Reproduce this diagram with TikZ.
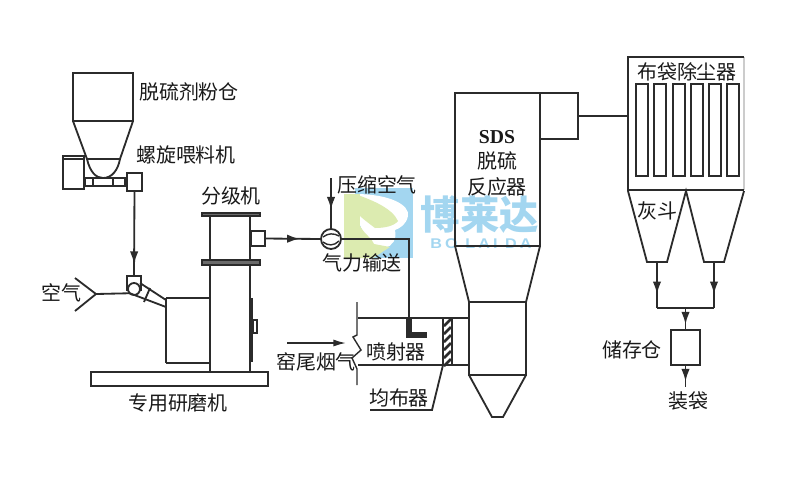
\documentclass[tikz,border=0pt]{standalone}
\usepackage{fontspec}
\setmainfont{Noto Sans CJK SC}
\newfontfamily\latinfont{Liberation Serif}
\newfontfamily\logofont[LetterSpace=22,FakeStretch=1.15]{Liberation Sans}
\usetikzlibrary{arrows.meta,positioning,decorations.markings}
\definecolor{inkline}{HTML}{2B2B2B}
\definecolor{logoblue}{HTML}{A3D6F0}
\definecolor{logogreen}{HTML}{DCEBB0}
\tikzset{
  unit/.style={draw=inkline, line width=1.3pt, rectangle, inner sep=0pt, outer sep=0pt, fill=none},
  pipe/.style={draw=inkline, line width=1.3pt},
  flow/.style={pipe, postaction={decorate},
    decoration={markings, mark=at position #1 with {\arrow{Latex[length=9pt,width=6pt]}}}},
  label/.style={font=\fontsize{14.2}{14.2}\selectfont, text=black!90, inner sep=0pt},
}
\begin{document}
\begin{tikzpicture}[x=0.025cm, y=-0.025cm]
\useasboundingbox (0,0) rectangle (800,496);

% watermark
\fill[logoblue] (355,188) rectangle (413,258);
\fill[white] (355,194) .. controls (390,194) and (410,205) .. (408,216)
  .. controls (406,225) and (400,228) .. (395,230) .. controls (397,240) and (392,246) .. (385,248)
  -- (370,248) -- (360,225) -- cycle;
\fill[logogreen] (344,194) rectangle (360,258);
\fill[logogreen] (355,194) .. controls (372,200) and (392,208) .. (398,221)
  .. controls (394,226) and (385,228) .. (375,228) .. controls (367,222) and (362,218) .. (360,216) -- cycle;
\fill[logogreen] (360,226) .. controls (365,235) and (372,238) .. (374,244) -- (390,247) -- (373,258) -- (360,258) -- cycle;
\node[font=\bfseries\fontsize{28}{28}\selectfont, text=logoblue, inner sep=0pt] (logocn) at (480,215) {博莱达};
\node[font=\logofont\bfseries\fontsize{10}{10}\selectfont, text=logoblue, inner sep=0pt] (logoen) at (481,244) {BO LAI DA};

% powder bin and screw feeder
\node[unit, minimum width=1.5cm, minimum height=1.2cm] (bin) at (103,97) {};
\draw[pipe] (bin.south west) -- (87,159) -- (120,159) -- (bin.south east);
\draw[pipe] (87,159) .. controls (90,172) and (96,178) .. (103,178) .. controls (112,178) and (118,170) .. (120,159);
\node[unit, minimum width=0.525cm, minimum height=0.825cm] (motor) at (73.5,172.5) {};
\draw[pipe] (63,159) -- (84,159);
\draw[pipe] (84,178) -- (127,178) (84,186) -- (127,186);
\draw[pipe, fill=white] (85,178) rectangle (93,186);
\draw[pipe, fill=white] (113,178) rectangle (125,186);
\node[unit, minimum width=0.375cm, minimum height=0.45cm] (feedout) at (134.5,182) {};

% mill
\node[unit, minimum width=4.425cm, minimum height=0.35cm] (base) at (179.5,379) {};
\draw[pipe] (210,217) -- (210,372) (250,217) -- (250,372);
\draw[pipe, fill=inkline!70] (202,213) rectangle (260,216);
\draw[pipe, fill=inkline!70] (202,260) rectangle (260,265);
\node[unit, minimum width=0.35cm, minimum height=0.375cm] (classout) at (258,238.5) {};
\draw[pipe] (166,298) -- (210,298) (166,363) -- (210,363) (166,298) -- (166,363);
\draw[line width=1.8pt, inkline] (251.5,298) -- (251.5,362);
\draw[pipe] (253,320) rectangle (257,333);
\node[unit, minimum width=0.35cm, minimum height=0.35cm] (millin) at (134,283) {};
\node[unit, circle, minimum size=0.3cm, fill=white] (fan) at (134,289) {};
\draw[pipe] (140,283) -- (166,300) (fan.south west) -- (166,307);
\draw[pipe] (150,288) -- (144,302);
\coordinate (airtip) at (96,294);
\draw[pipe] (75,278) -- (airtip) -- (75,311);
\draw[pipe] (airtip) -- (fan.south west);
\draw[flow=0.86] (feedout.south) -- (millin.north);

% conveying line
\node[unit, circle, minimum size=0.5cm] (pump) at (331,239) {};
\draw[pipe, line width=1pt] (323,237) .. controls (328,233) and (334,233) .. (339,236);
\draw[pipe, line width=1pt] (323,242) .. controls (328,246) and (334,246) .. (339,241);
\coordinate (airin) at (331,178);
\coordinate (lance) at (409,318);
\draw[flow=0.62] (airin) -- (pump.north);
\draw[flow=0.62] (classout.east) -- (pump.west);
\draw[pipe] (pump.east) -| (lance);

% flue duct
\draw[pipe] (358,318) -- (469,318) (358,365) -- (469,365);
\draw[pipe, line width=1pt] (357,302) -- (357,335) -- (353,337) -- (361,350) -- (352,358) -- (357,369) -- (357,385);
\draw[draw=inkline, line width=4.5pt] (lance) -- (409,335) -- (427,335);
\draw[pipe, fill=white] (443,318) rectangle (452,365);
\foreach \y in {326,334,...,366} \draw[pipe, line width=1.8pt] (444,\y) -- (451,\y-7);
\coordinate (flueA) at (287,343);
\coordinate (flueB) at (346,343);
\draw[draw=inkline, line width=1.1pt, -{Latex[length=9pt,width=5pt]}] (flueA) -- (flueB);
\draw[pipe] (443,365) -- (432,410) -- (370,410);

% reactor
\draw[pipe] (540,93) -- (455,93) -- (455,246) -- (540,246) -- cycle;
\draw[pipe] (455,246) -- (469,302) -- (526,302) -- (540,246);
\draw[pipe] (469,302) -- (469,375) -- (526,375) -- (526,302);
\draw[pipe] (469,375) -- (492,417) -- (503,417) -- (526,375);
\node[unit, minimum width=0.95cm, minimum height=1.15cm] (outlet) at (559,116) {};

% bag filter
\node[inner sep=0pt, outer sep=0pt, minimum width=2.9cm, minimum height=3.325cm] (filter) at (686,123.5) {};
\draw[black!20, line width=0.8pt] (filter.north east) -- (filter.south east);
\draw[pipe] (filter.north east) -- (filter.north west) -- (filter.south west) -- (filter.south east);
\foreach \x in {636,654,673,691,709,727} \draw[pipe] (\x,84) rectangle (\x+12,176);
\draw[pipe] (outlet.east) -- (outlet.east -| filter.west);
\draw[pipe] (628,191) -- (647,262) -- (667,262) -- (686,191) -- (704,262) -- (724,262) -- (744,191);

% ash handling
\coordinate (hopA) at (657,262);
\coordinate (hopB) at (714,262);
\coordinate (joinA) at (657,308);
\coordinate (joinB) at (714,308);
\coordinate (joinC) at (685.5,308);
\coordinate (bagout) at (685.5,387);
\node[unit, minimum width=0.725cm, minimum height=0.875cm] (store) at (685.5,347.5) {};
\draw[flow=0.7] (hopA) -- (joinA);
\draw[flow=0.7] (hopB) -- (joinB);
\draw[pipe] (joinA) -- (joinB);
\draw[flow=0.75] (joinC) -- (store.north);
\draw[flow=0.75] (store.south) -- (bagout);

% labels
\node[label] (binlabel) at (189,92) {脱硫剂粉仓};
\node[label] (feedlabel) at (186,155) {螺旋喂料机};
\node[label] (classlabel) at (231,196) {分级机};
\node[label] (airlabel) at (61,293) {空气};
\node[label] (milllabel) at (178,403) {专用研磨机};
\node[label] (complabel) at (377,185) {压缩空气};
\node[label] (convlabel) at (362,263) {气力输送};
\node[label] (fluelabel) at (316,362) {窑尾烟气};
\node[label] (injlabel) at (396,352) {喷射器};
\node[label] (distlabel) at (399,398) {均布器};
\node[label, font=\latinfont\bfseries\fontsize{14}{14}\selectfont] (sdslabel) at (497,137) {SDS};
\node[label] (desulflabel) at (497,161) {脱硫};
\node[label] (reactlabel) at (497,187) {反应器};
\node[label] (filterlabel) at (687,72) {布袋除尘器};
\node[label] (ashlabel) at (657,211) {灰斗};
\node[label] (storelabel) at (632,350) {储存仓};
\node[label] (baglabel) at (688,401) {装袋};
\end{tikzpicture}
\end{document}
